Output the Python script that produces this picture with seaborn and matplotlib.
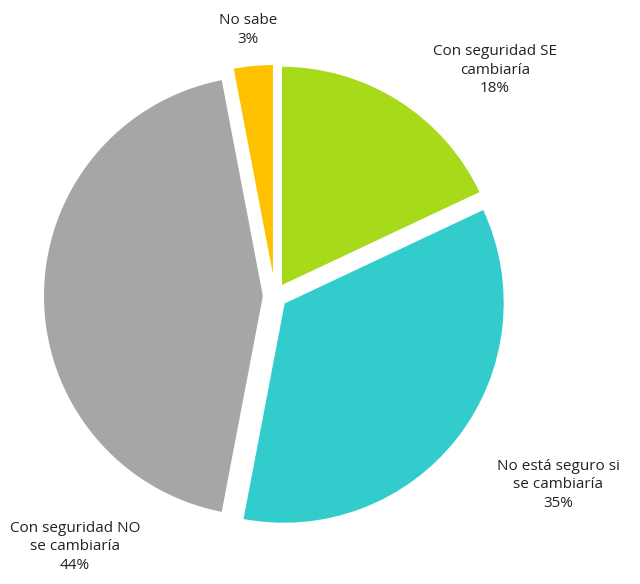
import matplotlib
matplotlib.use("Agg")
import matplotlib.pyplot as plt
import seaborn as sns

sns.set_theme(style="white")
plt.rcParams['font.family'] = ['Open Sans', 'DejaVu Sans']

categories = ["Con seguridad SE\ncambiaría", "No está seguro si\nse cambiaría",
              "Con seguridad NO\nse cambiaría", "No sabe"]
values = [18, 35, 44, 3]
colors = ["#A8DA1C", "#33CCCC", "#A6A6A6", "#FFC000"]

fig = plt.figure(figsize=(6.4, 5.84), dpi=100)
# axes centred on the pie centre (~275, 295 px)
ext = 1.06
unit = 221
w = 2 * ext * unit
ax = fig.add_axes([(275 - ext * unit) / 640, (584 - 296 - ext * unit) / 584, w / 640, w / 584])
ax.pie(values, colors=colors, startangle=90, counterclock=False,
       explode=[0.05] * len(values), radius=1,
       wedgeprops=dict(edgecolor="white", linewidth=1.5))
ax.set_xlim(-ext, ext)
ax.set_ylim(-ext, ext)
ax.set_aspect("equal")
ax.axis("off")

label_pos = [(495, 70), (558, 485), (75, 547), (248, 30)]
for cat, v, (px, py) in zip(categories, values, label_pos):
    fig.text(px / 640, 1 - py / 584, f"{cat}\n{v}%", ha="center", va="center",
             fontsize=11, color="#222222", linespacing=1.3)

fig.savefig("out.png", dpi=100)
